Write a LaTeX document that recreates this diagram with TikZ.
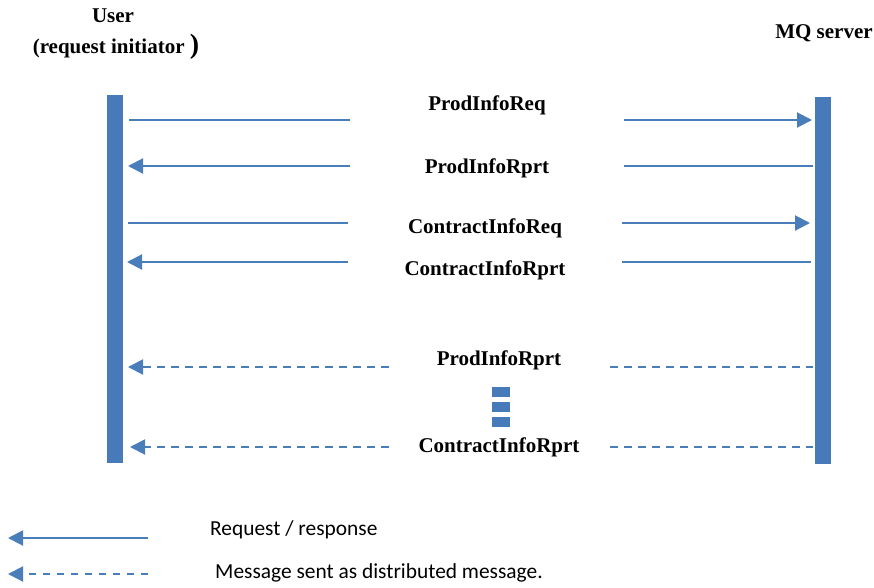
\documentclass[tikz,border=0pt]{standalone}
\usepackage{fontspec}
\setmainfont{Liberation Serif}
\newfontfamily\legendfont{Carlito}
\usetikzlibrary{arrows.meta}
\definecolor{barblue}{RGB}{70,122,184}
\definecolor{lineblue}{RGB}{74,126,187}
\tikzset{
  bar/.style={fill=barblue, draw=none, minimum width=16pt, inner sep=0pt},
  msg/.style={font=\bfseries\fontsize{21}{23}\selectfont, inner sep=0pt, anchor=center},
  title/.style={font=\bfseries\fontsize{21}{23}\selectfont, inner sep=0pt},
  solidline/.style={draw=lineblue, line width=2pt},
  dashline/.style={draw=lineblue, line width=2pt, dash pattern=on 8pt off 6pt},
  tip/.style={-{Triangle[length=15pt,width=15pt]}},
  legtext/.style={font=\legendfont\fontsize{21.4}{23}\selectfont, inner sep=0pt, anchor=west},
  dotsq/.style={fill=barblue, draw=none, minimum width=18pt, minimum height=10pt, inner sep=0pt}
}
\begin{document}
\begin{tikzpicture}[x=1pt, y=-1pt]
\useasboundingbox (0,0) rectangle (874,587);
% titles
\node[title] (usert) at (113,16) {User};
\node[title] (usert2) at (116,47) {(request initiator {\fontsize{28}{28}\selectfont )}};
\node[title] (mqt) at (824,33) {MQ server};
% bars
\node[bar, minimum height=368pt] (user) at (115,279) {};
\node[bar, minimum height=367pt] (mq) at (823,280.5) {};
% labels
\node[msg] (m1) at (487,105) {ProdInfoReq};
\node[msg] (m2) at (487,168) {ProdInfoRprt};
\node[msg] (m3) at (485,228) {ContractInfoReq};
\node[msg] (m4) at (485,270) {ContractInfoRprt};
\node[msg] (m5) at (499,360) {ProdInfoRprt};
\node[msg] (m6) at (499,447) {ContractInfoRprt};
% dots
\node[dotsq] (d1) at (501,392) {};
\node[dotsq] (d2) at (501,407) {};
\node[dotsq] (d3) at (501,422) {};
% coordinates
\coordinate (a1l) at (129,120); \coordinate (a1m) at (350,120);
\coordinate (b1m) at (624,120); \coordinate (b1r) at (812,120);
\coordinate (a2l) at (128,166); \coordinate (a2m) at (350,166);
\coordinate (b2m) at (624,166); \coordinate (b2r) at (813,166);
\coordinate (a3l) at (128,223); \coordinate (a3m) at (348,223);
\coordinate (b3m) at (622,223); \coordinate (b3r) at (810,223);
\coordinate (a4l) at (127,262); \coordinate (a4m) at (348,262);
\coordinate (b4m) at (622,262); \coordinate (b4r) at (811,262);
\coordinate (a5l) at (128,367); \coordinate (a5m) at (389,367);
\coordinate (b5m) at (610,367); \coordinate (b5r) at (813,367);
\coordinate (a6l) at (130,447); \coordinate (a6m) at (389,447);
\coordinate (b6m) at (610,447); \coordinate (b6r) at (813,447);
% rows
\draw[solidline] (a1l) -- (a1m);
\draw[solidline, tip] (b1m) -- (b1r);
\draw[solidline, tip] (a2m) -- (a2l);
\draw[solidline] (b2m) -- (b2r);
\draw[solidline] (a3l) -- (a3m);
\draw[solidline, tip] (b3m) -- (b3r);
\draw[solidline, tip] (a4m) -- (a4l);
\draw[solidline] (b4m) -- (b4r);
\draw[dashline, tip] (a5m) -- (a5l);
\draw[dashline] (b5m) -- (b5r);
\draw[dashline, tip] (a6m) -- (a6l);
\draw[dashline] (b6m) -- (b6r);
% legend
\coordinate (l1s) at (148,538); \coordinate (l1e) at (8,538);
\coordinate (l2s) at (148,574); \coordinate (l2e) at (8,574);
\draw[solidline, tip] (l1s) -- (l1e);
\draw[dashline, dash pattern=on 7pt off 7pt, tip] (l2s) -- (l2e);
\node[legtext] (lt1) at (210,530) {Request / response};
\node[legtext] (lt2) at (215,573) {Message sent as distributed message.};
\end{tikzpicture}
\end{document}
